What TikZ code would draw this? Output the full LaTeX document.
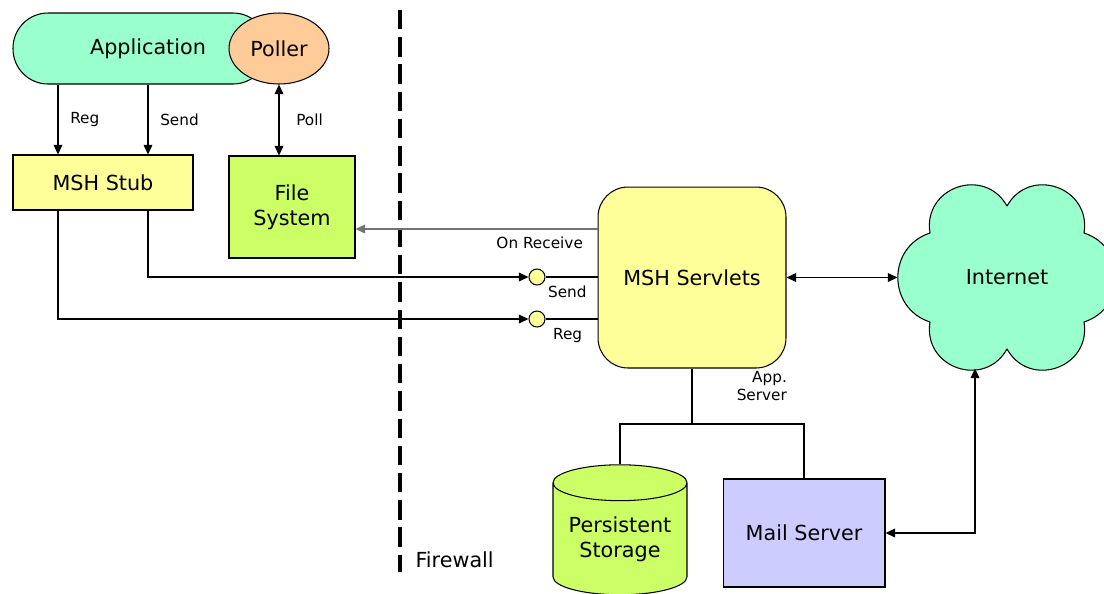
\documentclass[tikz,border=0pt]{standalone}
\usepackage{fontspec}
\setmainfont{DejaVu Sans}
\usetikzlibrary{
    arrows.meta,
    positioning,
    shapes.geometric
}

\definecolor{app_green}{HTML}{99FFCC}
\definecolor{poller_orange}{HTML}{FFCC99}
\definecolor{stub_yellow}{HTML}{FFFF99}
\definecolor{file_green}{HTML}{CCFF66}
\definecolor{mail_blue}{HTML}{CCCCFF}

\begin{document}
\begin{tikzpicture}[
    x=0.02cm, y=-0.02cm,
    >={Triangle[length=5.5pt,width=5pt]},
    node_style/.style={
        draw=black,
        line width=0.6pt,
        align=center,
        inner sep=0pt,
        font=\fontsize{11.8}{14}\selectfont
    },
    label_style/.style={
        inner sep=1pt,
        font=\fontsize{8.7}{10.6}\selectfont
    },
    edge_style/.style={
        draw=black,
        line width=0.6pt
    },
    port_style/.style={
        circle,
        draw=black,
        line width=0.6pt,
        fill=stub_yellow,
        inner sep=0pt,
        minimum size=0.32cm
    },
    puff_corner/.style={bend right=80, looseness=1.45},
    puff_side/.style={bend right=72, looseness=1.3}
]
\useasboundingbox (0,0) rectangle (1104,593);

% --- Nodes ---
\node[node_style, fill=app_green, rounded corners=0.7cm,
      minimum width=5.1cm, minimum height=1.42cm] (App) at (140.5,48.5) {\hspace{0.3cm}Application};
\node[node_style, ellipse, fill=poller_orange,
      minimum width=2cm, minimum height=1.42cm] (Poller) at (279,48.5) {Poller};

\node[node_style, fill=stub_yellow, minimum width=3.6cm, minimum height=1.1cm] (Stub) at (103,182.5) {MSH Stub};
\node[node_style, fill=file_green, minimum width=2.52cm, minimum height=2.04cm] (Files) at (292,207) {File\\System};

\node[node_style, fill=stub_yellow, rounded corners=0.6cm,
      minimum width=3.76cm, minimum height=3.62cm] (Servlets) at (692,277.5) {MSH Servlets};

\node[port_style] (SendPort) at (537,277) {};
\node[port_style] (RegPort) at (537,319) {};

% cloud outline: six puffs between these clefts
\coordinate (cl_top) at (1007,206);
\coordinate (cl_ul) at (930,233);
\coordinate (cl_ll) at (930,322);
\coordinate (cl_bot) at (1007,349);
\coordinate (cl_lr) at (1084,322);
\coordinate (cl_ur) at (1084,233);
\draw[edge_style, fill=app_green, line join=round]
    (cl_top) to[puff_corner] (cl_ul) to[puff_side] (cl_ll) to[puff_corner] (cl_bot)
    to[puff_corner] (cl_lr) to[puff_side] (cl_ur) to[puff_corner] (cl_top) -- cycle;
\node[node_style, draw=none, minimum width=4.36cm, minimum height=3.62cm] (Internet) at (1007,277.5) {Internet};

\node[node_style, cylinder, shape border rotate=90, aspect=0.35, fill=file_green,
      minimum width=2.68cm, minimum height=2.6cm] (Storage) at (620,539) {Persistent\\Storage};
\node[node_style, fill=mail_blue, minimum width=3.24cm, minimum height=2.16cm] (Mail) at (804,533) {Mail Server};

% helper coordinates for the bent connectors
\coordinate (reg_x) at (58,0);
\coordinate (send_x) at (148,0);
\coordinate (recv_y) at (0,229);
\coordinate (bus_y) at (0,424);
\coordinate (net_x) at (975,0);

% firewall
\coordinate (fw_top) at (400,10);
\coordinate (fw_bottom) at (400,572);
\draw[line width=2pt, dash pattern=on 11pt off 4.5pt] (fw_top) -- (fw_bottom);
\node[node_style, draw=none, anchor=west] (FwLabel) at (415,560) {Firewall};

% --- Edges ---
\draw[edge_style,->] (reg_x |- App.south) -- node[label_style, right, xshift=0.2cm] {Reg} (reg_x |- Stub.north);
\draw[edge_style,->] (send_x |- App.south) -- node[label_style, right, xshift=0.2cm] {Send} (send_x |- Stub.north);
\draw[edge_style,<->] (Poller.south) -- node[label_style, right, xshift=0.3cm] {Poll} (Poller.south |- Files.north);

% servlets back to the file system
\draw[edge_style, draw=black!55, ->] (recv_y -| Servlets.west) -- (recv_y -| Files.east);
\node[label_style, anchor=north east] (RecvLabel) at (585,235) {On Receive};

% stub to servlets through the ports
\draw[edge_style,->] (send_x |- Stub.south) |- (SendPort.west);
\draw[edge_style] (SendPort.east) -- (Servlets.west |- SendPort);
\node[label_style, anchor=north west] (SendLabel) at (546,284) {Send};
\draw[edge_style,->] (reg_x |- Stub.south) |- (RegPort.west);
\draw[edge_style] (RegPort.east) -- (Servlets.west |- RegPort);
\node[label_style, anchor=north west] (RegLabel) at (551,326) {Reg};

\draw[edge_style,<->] (Servlets.east) -- (Internet.west);

% app server bus
\draw[edge_style] (Servlets.south) -- (Servlets.south |- bus_y);
\draw[edge_style] (Storage.north) |- (Mail.north |- bus_y) -- (Mail.north);
\node[label_style, align=right, anchor=north east] (AppServer) at (789,369) {App.\\Server};

\draw[edge_style,<->] (Mail.east) -| (net_x |- Internet.south);

\end{tikzpicture}
\end{document}
